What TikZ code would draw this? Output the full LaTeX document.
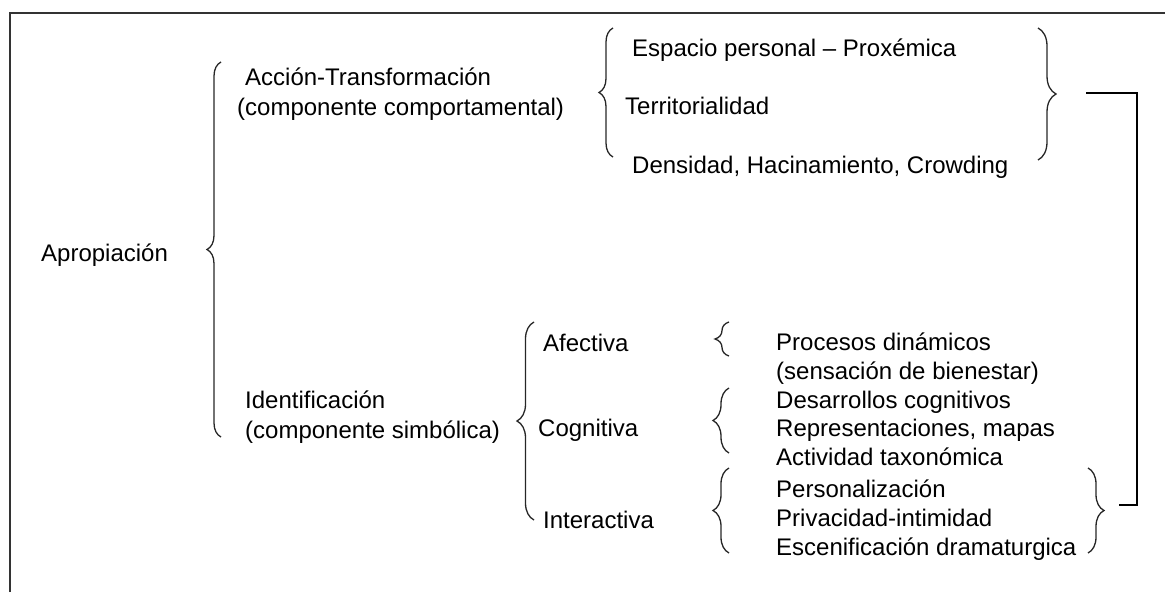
\documentclass[tikz,border=0pt]{standalone}
\usepackage{fontspec}
\setmainfont{Liberation Sans}
\usetikzlibrary{decorations.pathreplacing}
\begin{document}
\begin{tikzpicture}[x=1pt,y=-1pt,
  lbl/.style={anchor=base west,inner sep=0pt,font=\fontsize{24}{28}\selectfont},
  brc/.style={decorate,decoration={brace,amplitude=#1},line width=1.3pt,black!85},
  brc/.default=16,
  conn/.style={line width=2pt,black}]
\useasboundingbox (0,0) rectangle (1165,592);
% frame
\draw[line width=2.4pt,black!80] (10,592) -- (10,13) -- (1165,13);
% texts
\node[lbl] (apro) at (41,261) {Apropiación};
\node[lbl] (acc1) at (245,85) {Acción-Transformación};
\node[lbl] (acc2) at (237,115) {(componente comportamental)};
\node[lbl] (esp) at (632,56) {Espacio personal – Proxémica};
\node[lbl] (ter) at (625,114) {Territorialidad};
\node[lbl] (den) at (632,173) {Densidad, Hacinamiento, Crowding};
\node[lbl] (id1) at (245,408) {Identificación};
\node[lbl] (id2) at (245,438) {(componente simbólica)};
\node[lbl] (afe) at (543,351) {Afectiva};
\node[lbl] (cog) at (538,436) {Cognitiva};
\node[lbl] (int) at (543,528) {Interactiva};
\node[lbl] (pro) at (776,350) {Procesos dinámicos};
\node[lbl] (sen) at (776,379) {(sensación de bienestar)};
\node[lbl] (des) at (776,408) {Desarrollos cognitivos};
\node[lbl] (rep) at (776,436) {Representaciones, mapas};
\node[lbl] (act) at (776,465) {Actividad taxonómica};
\node[lbl] (per) at (776,497) {Personalización};
\node[lbl] (pri) at (776,526) {Privacidad-intimidad};
\node[lbl] (esc) at (776,555) {Escenificación dramaturgica};
% braces
\draw[brc=14] (221,437) -- (221,62);
\draw[brc=14] (613,157) -- (613,28);
\draw[brc=18] (1038,28) -- (1038,160);
\draw[brc=17] (534,520) -- (534,322);
\draw[brc=14] (729,356) -- (729,322);
\draw[brc=16] (729,453) -- (729,388);
\draw[brc=16] (729,553) -- (729,468);
\draw[brc=16] (1088,468) -- (1088,553);
% connector
\coordinate (ta) at (1086,93);
\coordinate (tb) at (1119,505);
\coordinate (rail) at (1137,0);
\draw[conn] (ta) -- (ta -| rail) -- (tb -| rail) -- (tb);
\end{tikzpicture}
\end{document}
